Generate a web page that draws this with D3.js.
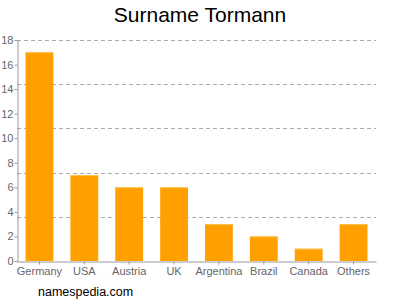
<!DOCTYPE html>
<html><head><meta charset="utf-8">
<script src="https://cdn.jsdelivr.net/npm/d3@7"></script>
<style>body{margin:0;background:#fff}svg{font-family:"Liberation Sans",Arial,sans-serif}</style>
</head><body><svg id="c" width="400" height="300"></svg>
<script>
const categories = ["Germany","USA","Austria","UK","Argentina","Brazil","Canada","Others"];
const values = [17,7,6,6,3,2,1,3];
const yTicks = [0,2,4,6,8,10,12,14,16,18];
const gridValues = [3.6,7.2,10.8,14.4,18];

const svg = d3.select("#c");
const m = {l:17, r:376, t:40, b:261};
const x = d3.scaleBand().domain(categories).range([m.l, m.r]).paddingInner(0.38).paddingOuter(0.19);
const y = d3.scaleLinear().domain([0,18]).range([m.b, m.t]);

svg.append("text").attr("x",200).attr("y",22).attr("text-anchor","middle")
  .attr("font-size",21).attr("fill","#000").text("Surname Tormann");

svg.append("g").selectAll("line").data(gridValues).join("line")
  .attr("x1",m.l).attr("x2",m.r).attr("y1",d=>Math.round(y(d))+0.5).attr("y2",d=>Math.round(y(d))+0.5)
  .attr("stroke","#aaa").attr("stroke-dasharray","4,3").attr("stroke-width",1);

svg.append("g").selectAll("rect").data(values).join("rect")
  .attr("x",(d,i)=>x(categories[i])).attr("width",x.bandwidth())
  .attr("y",d=>y(d)).attr("height",d=>y(0)-y(d)).attr("fill","#FFA000");
svg.append("g").selectAll("line").data(values).join("line")
  .attr("x1",(d,i)=>x(categories[i])).attr("x2",(d,i)=>x(categories[i])+x.bandwidth())
  .attr("y1",d=>y(d)+0.5).attr("y2",d=>y(d)+0.5).attr("stroke","#FFC04D");

const ya = svg.append("g").attr("transform",`translate(${m.l+0.5},0)`)
  .call(d3.axisLeft(y).tickValues(yTicks).tickSize(3).tickSizeOuter(0));
ya.select(".domain").attr("stroke","#999");
ya.selectAll(".tick line").attr("stroke","#999");
ya.selectAll(".tick text").attr("font-size",11).attr("fill","#666").attr("font-family","Liberation Sans, Arial, sans-serif").attr("x",-4);

const xa = svg.append("g").attr("transform",`translate(0,${m.b+0.5})`)
  .call(d3.axisBottom(x).tickSize(3).tickSizeOuter(0));
xa.select(".domain").attr("stroke","#999");
xa.selectAll(".tick line").attr("stroke","#999");
xa.selectAll(".tick text").attr("font-size",11).attr("fill","#666").attr("font-family","Liberation Sans, Arial, sans-serif").attr("y",6);

svg.append("text").attr("x",38).attr("y",296).attr("font-size",12.5).attr("fill","#000").text("namespedia.com");
</script></body></html>
